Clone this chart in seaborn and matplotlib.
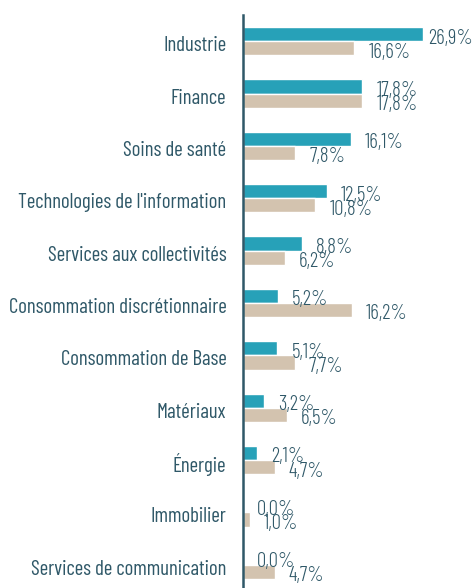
import pandas as pd
import matplotlib.pyplot as plt
import matplotlib.transforms as mtransforms
import seaborn as sns

# Data

sectors = ["Industrie", "Finance", "Soins de santé", "Technologies de l'information",
           "Services aux collectivités", "Consommation discrétionnaire",
           "Consommation de Base", "Matériaux", "Énergie", "Immobilier",
           "Services de communication"]
fonds = [26.9, 17.8, 16.1, 12.5, 8.8, 5.2, 5.1, 3.2, 2.1, 0.0, 0.0]
indice = [16.6, 17.8, 7.8, 10.8, 6.2, 16.2, 7.7, 6.5, 4.7, 1.0, 4.7]
series = ["Fonds", "Indice"]

teal = "#27a1b8"
beige = "#d3c3af"
ink = "#2f5868"

df = pd.DataFrame({
    "Secteur": sectors * 2,
    "Valeur": fonds + indice,
    "Serie": [series[0]] * len(sectors) + [series[1]] * len(sectors),
})

sns.set_style("white")
plt.rcParams["font.family"] = ["Barlow Condensed", "DejaVu Sans"]

fig = plt.figure(figsize=(4.73, 5.88), dpi=100)
ax = fig.add_axes([243 / 473, -3 / 588, 230 / 473, 576 / 588])

sns.barplot(data=df, y="Secteur", x="Valeur", hue="Serie", orient="h",
            palette=[teal, beige], saturation=1, width=0.54, gap=0,
            legend=False, ax=ax)

ax.set_xlim(0, 34.3)
ax.set_ylim(len(sectors) - 0.5, -0.5)

# value labels
for i, (a, b) in enumerate(zip(fonds, indice)):
    for v, dy in ((a, -0.06), (b, 0.21)):
        x = min(v + 2.1, 27.6)
        ax.text(x, i + dy, f"{v:.1f}%".replace(".", ","), va="center", ha="left",
                fontsize=15, fontweight=300, color=ink, clip_on=False)

for s in ["top", "right", "bottom"]:
    ax.spines[s].set_visible(False)
ax.spines["left"].set_color(ink)
ax.spines["left"].set_linewidth(1.8)

ax.set_xticks([])
ax.set_yticks([i - 0.5 for i in range(len(sectors) + 1)], minor=True)
ax.set_yticks(range(len(sectors)))
ax.set_yticklabels(sectors, fontsize=15, fontweight=400, color=ink)
ax.tick_params(axis="y", which="major", length=0, pad=12)
ax.tick_params(axis="y", which="minor", direction="inout", length=10, width=1.6, color=ink)
shift = mtransforms.ScaledTranslation(0, -2.5 / 100, fig.dpi_scale_trans)
for lab in ax.get_yticklabels():
    lab.set_transform(lab.get_transform() + shift)
ax.set_xlabel("")
ax.set_ylabel("")

fig.savefig("out.png", dpi=100)
